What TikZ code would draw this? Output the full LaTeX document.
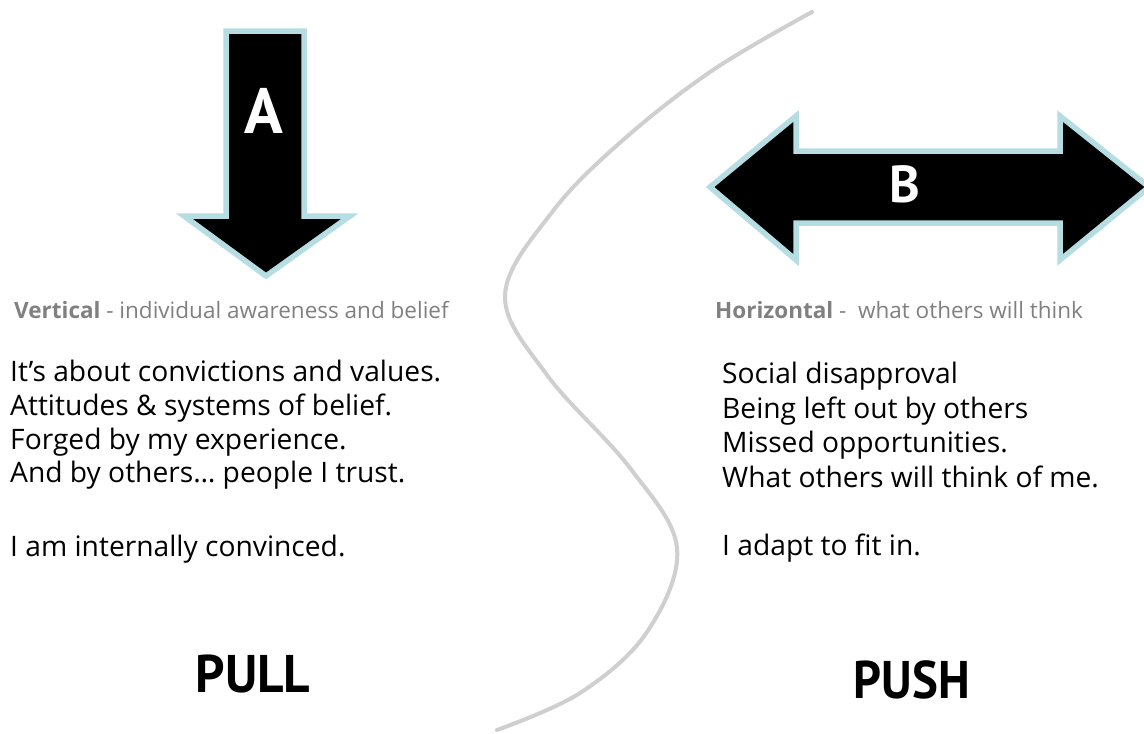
\documentclass[tikz,border=0pt]{standalone}
\usepackage{fontspec}
\usepackage{graphicx}
\setmainfont{Open Sans}
\newfontfamily\tagfont{PT Sans}
\definecolor{arrowrim}{HTML}{B6DDE1}
\definecolor{headgray}{HTML}{808080}
\definecolor{curvegray}{HTML}{CFCFCF}
\begin{document}
\begin{tikzpicture}[x=1pt,y=-1pt,
  bigarrow/.style={fill=black, draw=arrowrim, line width=5.5pt, line join=miter, miter limit=10},
  letter/.style={text=white, inner sep=0pt},
  head/.style={anchor=base west, inner sep=0pt, text=headgray, font=\fontsize{22.5}{24}\selectfont},
  item/.style={anchor=base west, inner sep=0pt, font=\fontsize{28.2}{33}\selectfont},
  tag/.style={inner sep=0pt, font=\tagfont\bfseries\fontsize{53}{53}\selectfont},
  divider/.style={draw=curvegray, line width=4pt, line cap=round}]
\useasboundingbox (0,0) rectangle (1144,734);
\clip (0,0) rectangle (1144,734);

% S-shaped divider between the two halves
\draw[divider] plot[smooth, tension=0.6] coordinates {(812,12) (713,70) (623,140) (553,211) (505,295) (547,375) (630,468) (677,548) (647,632) (580,693) (497,730)};

% downward arrow A
\draw[bigarrow] (226,31) -- (304,31) -- (304,216) -- (350,216) -- (266,276) -- (184,216) -- (226,216) -- cycle;
\node[letter, font=\tagfont\bfseries\fontsize{64}{64}\selectfont] (la) at (264,111) {A};

% double arrow B
\draw[bigarrow] (710,187) -- (796,116) -- (796,151) -- (1060,151) -- (1060,116) -- (1149,187)
  -- (1060,260) -- (1060,223) -- (796,223) -- (796,260) -- cycle;
\node[letter, font=\tagfont\bfseries\fontsize{52}{52}\selectfont] (lb) at (905,184) {B};

% left column
\node[head] (hl) at (14,318) {{\bfseries Vertical} - individual awareness and belief};
\node[item] (l1) at (10,381) {It’s about convictions and values.};
\node[item] (l2) at (10,415) {Attitudes \& systems of belief.};
\node[item] (l3) at (10,449) {Forged by my experience.};
\node[item] (l4) at (10,482) {And by others… people I trust.};
\node[item] (l5) at (10,556) {I am internally convinced.};

% right column
\node[head] (hr) at (715,318) {{\bfseries Horizontal} -\ \ what others will think};
\node[item] (r1) at (722,383) {Social disapproval};
\node[item] (r2) at (722,418) {Being left out by others};
\node[item] (r3) at (722,452) {Missed opportunities.};
\node[item] (r4) at (722,487) {What others will think of me.};
\node[item] (r5) at (722,555) {I adapt to fit in.};

% bottom labels
\node[tag] (pull) at (253,674) {\scalebox{0.97}[1]{PULL}};
\node[tag] (push) at (912,680) {\scalebox{0.92}[1]{PUSH}};
\end{tikzpicture}
\end{document}
